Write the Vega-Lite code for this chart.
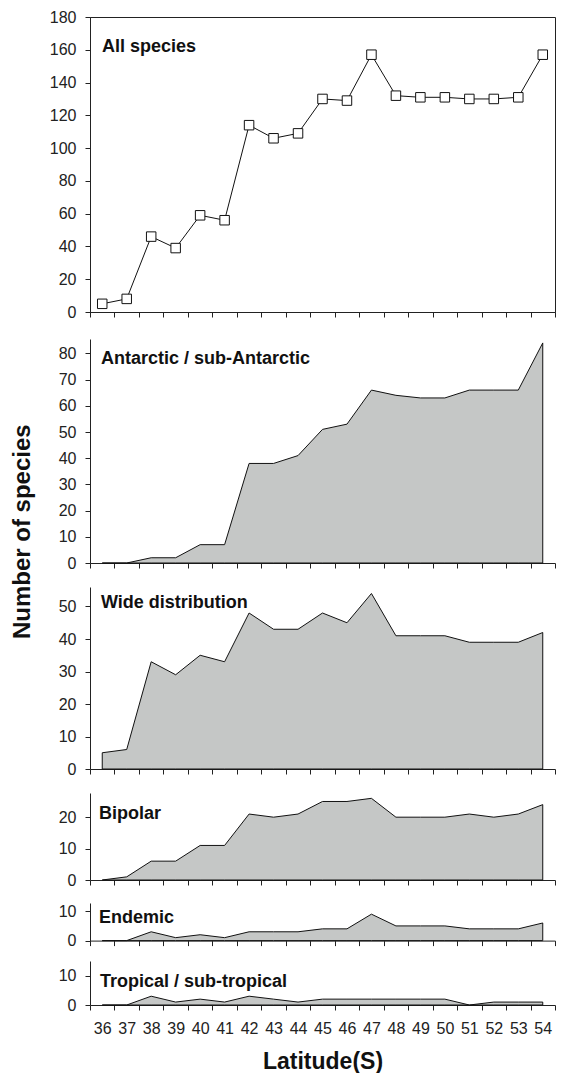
{
  "$schema": "https://vega.github.io/schema/vega-lite/v6.json",
  "padding": {"left": 10, "top": 8, "right": 5, "bottom": 0},
  "autosize": {"type": "pad"},
  "background": "white",
  "title": {"text": "Number of species", "orient": "left", "anchor": "middle", "frame": "bounds", "fontSize": 24, "fontWeight": "bold", "offset": 14, "dx": 9, "color": "#111", "font": "Liberation Sans"},
  "datasets": {
    "d": [
      {"lat": 36, "all": 5, "ant": 0, "wide": 5, "bip": 0, "end": 0, "trop": 0},
      {"lat": 37, "all": 8, "ant": 0, "wide": 6, "bip": 1, "end": 0, "trop": 0},
      {"lat": 38, "all": 46, "ant": 2, "wide": 33, "bip": 6, "end": 3, "trop": 3},
      {"lat": 39, "all": 39, "ant": 2, "wide": 29, "bip": 6, "end": 1, "trop": 1},
      {"lat": 40, "all": 59, "ant": 7, "wide": 35, "bip": 11, "end": 2, "trop": 2},
      {"lat": 41, "all": 56, "ant": 7, "wide": 33, "bip": 11, "end": 1, "trop": 1},
      {"lat": 42, "all": 114, "ant": 38, "wide": 48, "bip": 21, "end": 3, "trop": 3},
      {"lat": 43, "all": 106, "ant": 38, "wide": 43, "bip": 20, "end": 3, "trop": 2},
      {"lat": 44, "all": 109, "ant": 41, "wide": 43, "bip": 21, "end": 3, "trop": 1},
      {"lat": 45, "all": 130, "ant": 51, "wide": 48, "bip": 25, "end": 4, "trop": 2},
      {"lat": 46, "all": 129, "ant": 53, "wide": 45, "bip": 25, "end": 4, "trop": 2},
      {"lat": 47, "all": 157, "ant": 66, "wide": 54, "bip": 26, "end": 9, "trop": 2},
      {"lat": 48, "all": 132, "ant": 64, "wide": 41, "bip": 20, "end": 5, "trop": 2},
      {"lat": 49, "all": 131, "ant": 63, "wide": 41, "bip": 20, "end": 5, "trop": 2},
      {"lat": 50, "all": 131, "ant": 63, "wide": 41, "bip": 20, "end": 5, "trop": 2},
      {"lat": 51, "all": 130, "ant": 66, "wide": 39, "bip": 21, "end": 4, "trop": 0},
      {"lat": 52, "all": 130, "ant": 66, "wide": 39, "bip": 20, "end": 4, "trop": 1},
      {"lat": 53, "all": 131, "ant": 66, "wide": 39, "bip": 21, "end": 4, "trop": 1},
      {"lat": 54, "all": 157, "ant": 84, "wide": 42, "bip": 24, "end": 6, "trop": 1}
    ]
  },
  "data": {"name": "d"},
  "spacing": 0,
  "resolve": {"scale": {"y": "independent"}},
  "vconcat": [
    {
      "width": 465,
      "height": 295,
      "view": {"stroke": "#222", "strokeWidth": 1},
      "title": {"text": "All species", "offset": -47, "dx": 12},
      "encoding": {
        "x": {"field": "lat", "type": "ordinal", "scale": {"type": "band", "paddingInner": 0, "paddingOuter": 0}, "axis": {"tickBand": "extent", "labels": false, "title": null, "minExtent": 26.3, "maxExtent": 26.3}},
        "y": {"field": "all", "type": "quantitative", "scale": {"domain": [0, 180], "nice": false}, "axis": {"values": [0, 20, 40, 60, 80, 100, 120, 140, 160, 180], "title": null}}
      },
      "layer": [
        {"mark": {"type": "line", "color": "#111", "strokeWidth": 1}},
        {"mark": {"type": "point", "shape": "square", "filled": true, "fill": "white", "stroke": "#111", "strokeWidth": 1, "size": 90, "opacity": 1}}
      ]
    },
    {
      "width": 465,
      "height": 224,
      "title": {"text": "Antarctic / sub-Antarctic", "offset": -28.5, "dx": 11},
      "mark": {"type": "area", "color": "#c5c7c6", "stroke": "#111", "strokeWidth": 1},
      "encoding": {
        "x": {"field": "lat", "type": "ordinal", "scale": {"type": "band", "paddingInner": 0, "paddingOuter": 0}, "axis": {"tickBand": "extent", "labels": false, "title": null, "minExtent": 23.4, "maxExtent": 23.4}},
        "y": {"field": "ant", "type": "quantitative", "scale": {"domain": [0, 85.5], "nice": false}, "axis": {"values": [0, 10, 20, 30, 40, 50, 60, 70, 80], "title": null}}
      }
    },
    {
      "width": 465,
      "height": 182,
      "title": {"text": "Wide distribution", "offset": -24.5, "dx": 11},
      "mark": {"type": "area", "color": "#c5c7c6", "stroke": "#111", "strokeWidth": 1},
      "encoding": {
        "x": {"field": "lat", "type": "ordinal", "scale": {"type": "band", "paddingInner": 0, "paddingOuter": 0}, "axis": {"tickBand": "extent", "labels": false, "title": null, "minExtent": 23.7, "maxExtent": 23.7}},
        "y": {"field": "wide", "type": "quantitative", "scale": {"domain": [0, 56], "nice": false}, "axis": {"values": [0, 10, 20, 30, 40, 50], "title": null}}
      }
    },
    {
      "width": 465,
      "height": 87,
      "title": {"text": "Bipolar", "offset": -30, "dx": 9},
      "mark": {"type": "area", "color": "#c5c7c6", "stroke": "#111", "strokeWidth": 1},
      "encoding": {
        "x": {"field": "lat", "type": "ordinal", "scale": {"type": "band", "paddingInner": 0, "paddingOuter": 0}, "axis": {"tickBand": "extent", "labels": false, "title": null, "minExtent": 22.7, "maxExtent": 22.7}},
        "y": {"field": "bip", "type": "quantitative", "scale": {"domain": [0, 27.7], "nice": false}, "axis": {"values": [0, 10, 20], "title": null}}
      }
    },
    {
      "width": 465,
      "height": 37.6,
      "title": {"text": "Endemic", "offset": -24, "dx": 9},
      "mark": {"type": "area", "color": "#c5c7c6", "stroke": "#111", "strokeWidth": 1},
      "encoding": {
        "x": {"field": "lat", "type": "ordinal", "scale": {"type": "band", "paddingInner": 0, "paddingOuter": 0}, "axis": {"tickBand": "extent", "labels": false, "title": null, "minExtent": 20.4, "maxExtent": 20.4}},
        "y": {"field": "end", "type": "quantitative", "scale": {"domain": [0, 12.8], "nice": false}, "axis": {"values": [0, 10], "title": null}}
      }
    },
    {
      "width": 465,
      "height": 44,
      "title": {"text": "Tropical / sub-tropical", "offset": -29.5, "dx": 10},
      "mark": {"type": "area", "color": "#c5c7c6", "stroke": "#111", "strokeWidth": 1},
      "encoding": {
        "x": {"field": "lat", "type": "ordinal", "scale": {"type": "band", "paddingInner": 0, "paddingOuter": 0}, "axis": {"tickBand": "extent", "labels": true, "labelAngle": 0, "labelOverlap": false, "labelPadding": 10, "title": "Latitude(S)", "titleFontSize": 23, "titleFontWeight": "bold", "titlePadding": 14, "titleColor": "#111"}},
        "y": {"field": "trop", "type": "quantitative", "scale": {"domain": [0, 15], "nice": false}, "axis": {"values": [0, 10], "title": null}}
      }
    }
  ],
  "config": {
    "font": "Liberation Sans",
    "view": {"stroke": null},
    "axis": {"labelFont": "Liberation Sans", "labelFontSize": 16, "labelColor": "#222", "domainColor": "#222", "tickColor": "#222", "tickSize": 5, "grid": false, "titleFont": "Liberation Sans"},
    "axisY": {"tickSize": 5, "labelPadding": 9},
    "title": {"font": "Liberation Sans", "fontSize": 18, "fontWeight": "bold", "color": "#111", "anchor": "start", "frame": "group", "baseline": "alphabetic"}
  }
}
